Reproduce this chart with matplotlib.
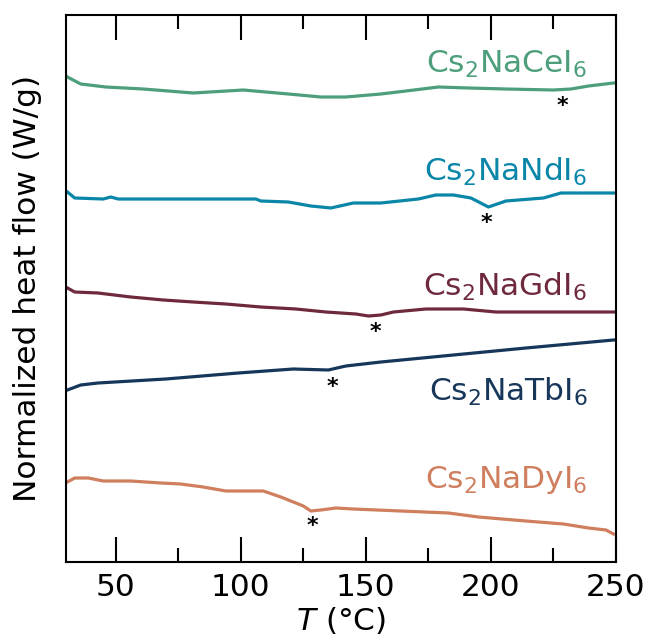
import matplotlib
matplotlib.use("Agg")
import matplotlib.pyplot as plt
from matplotlib.ticker import MultipleLocator

# temperatures (degC) and offset heat flow (arb. offset units)
ce_T = [30.7, 36, 46, 61, 81, 101, 119, 132, 142, 156, 166, 179, 191, 206, 225, 232, 239, 249]
ce_y = [4.85, 4.78, 4.75, 4.73, 4.69, 4.72, 4.68, 4.65, 4.65, 4.68, 4.71, 4.75, 4.74, 4.73, 4.72, 4.73, 4.76, 4.79]

nd_T = [30.7, 33.6, 45, 48, 51, 61, 106, 108, 119, 128, 136, 145, 156, 171, 178, 185, 192, 199, 206, 221, 228, 249]
nd_y = [3.70, 3.64, 3.63, 3.65, 3.63, 3.63, 3.63, 3.61, 3.60, 3.56, 3.54, 3.59, 3.59, 3.63, 3.67, 3.67, 3.64, 3.55, 3.61, 3.64, 3.69, 3.69]

gd_T = [30.7, 33.6, 42.9, 56, 69, 81, 94, 108, 122, 134, 146, 151, 156, 161, 174, 189, 202, 249]
gd_y = [2.74, 2.70, 2.69, 2.65, 2.62, 2.60, 2.58, 2.55, 2.53, 2.50, 2.48, 2.46, 2.47, 2.50, 2.53, 2.53, 2.50, 2.50]

tb_T = [30.7, 36, 42.9, 70, 99, 121, 135, 142, 156, 185, 214, 249]
tb_y = [1.72, 1.77, 1.79, 1.83, 1.89, 1.93, 1.92, 1.96, 2.00, 2.07, 2.14, 2.22]

dy_T = [30.7, 33.6, 39, 45, 56, 68, 76, 85, 94, 109, 116, 125, 128, 132, 138, 145, 164, 183, 195, 214, 229, 239, 246, 249]
dy_y = [0.80, 0.84, 0.84, 0.81, 0.81, 0.79, 0.78, 0.75, 0.71, 0.71, 0.65, 0.56, 0.51, 0.52, 0.54, 0.53, 0.51, 0.49, 0.45, 0.41, 0.38, 0.34, 0.32, 0.28]

names = ["Cs$_2$NaCeI$_6$", "Cs$_2$NaNdI$_6$", "Cs$_2$NaGdI$_6$", "Cs$_2$NaTbI$_6$", "Cs$_2$NaDyI$_6$"]
colors = ["#4c9f7a", "#0a86a9", "#6e2a3c", "#16365a", "#cf7e5e"]
label_y = [4.98, 3.90, 2.75, 1.70, 0.82]

# transition markers (*)
star_T = [228.6, 198, 154, 136.7, 128.6]
star_y = [4.56, 3.39, 2.30, 1.75, 0.36]

curves = [(ce_T, ce_y), (nd_T, nd_y), (gd_T, gd_y), (tb_T, tb_y), (dy_T, dy_y)]

fig = plt.figure(figsize=(6.48, 6.38), dpi=100)
ax = fig.add_axes([65.7/648, (638-562)/638, (616-65.7)/648, (562-15)/638])

for (T, y), c, name, ly in zip(curves, colors, names, label_y):
    ax.plot(T, y, color=c, lw=2.3)
    ax.text(238.5, ly, name, color=c, fontsize=22.5, ha="right", va="center")

for sx, sy in zip(star_T, star_y):
    ax.text(sx, sy, "*", fontsize=16, fontweight="bold", ha="center", va="center", color="black")

ax.set_xlim(30, 250)
ax.set_ylim(0, 5.47)
ax.xaxis.set_major_locator(MultipleLocator(50))
ax.xaxis.set_minor_locator(MultipleLocator(25))
ax.tick_params(axis="x", which="both", direction="in", top=True, width=1.5, labelsize=22.5, pad=8)
ax.tick_params(axis="x", which="major", length=18)
ax.tick_params(axis="x", which="minor", length=10)
ax.set_yticks([])
for s in ax.spines.values():
    s.set_linewidth(1.5)

ax.set_xlabel("$T$ (°C)", fontsize=22.5, labelpad=2)
ax.set_ylabel("Normalized heat flow (W/g)", fontsize=22.5, labelpad=17)

fig.savefig("out.png", dpi=100)
